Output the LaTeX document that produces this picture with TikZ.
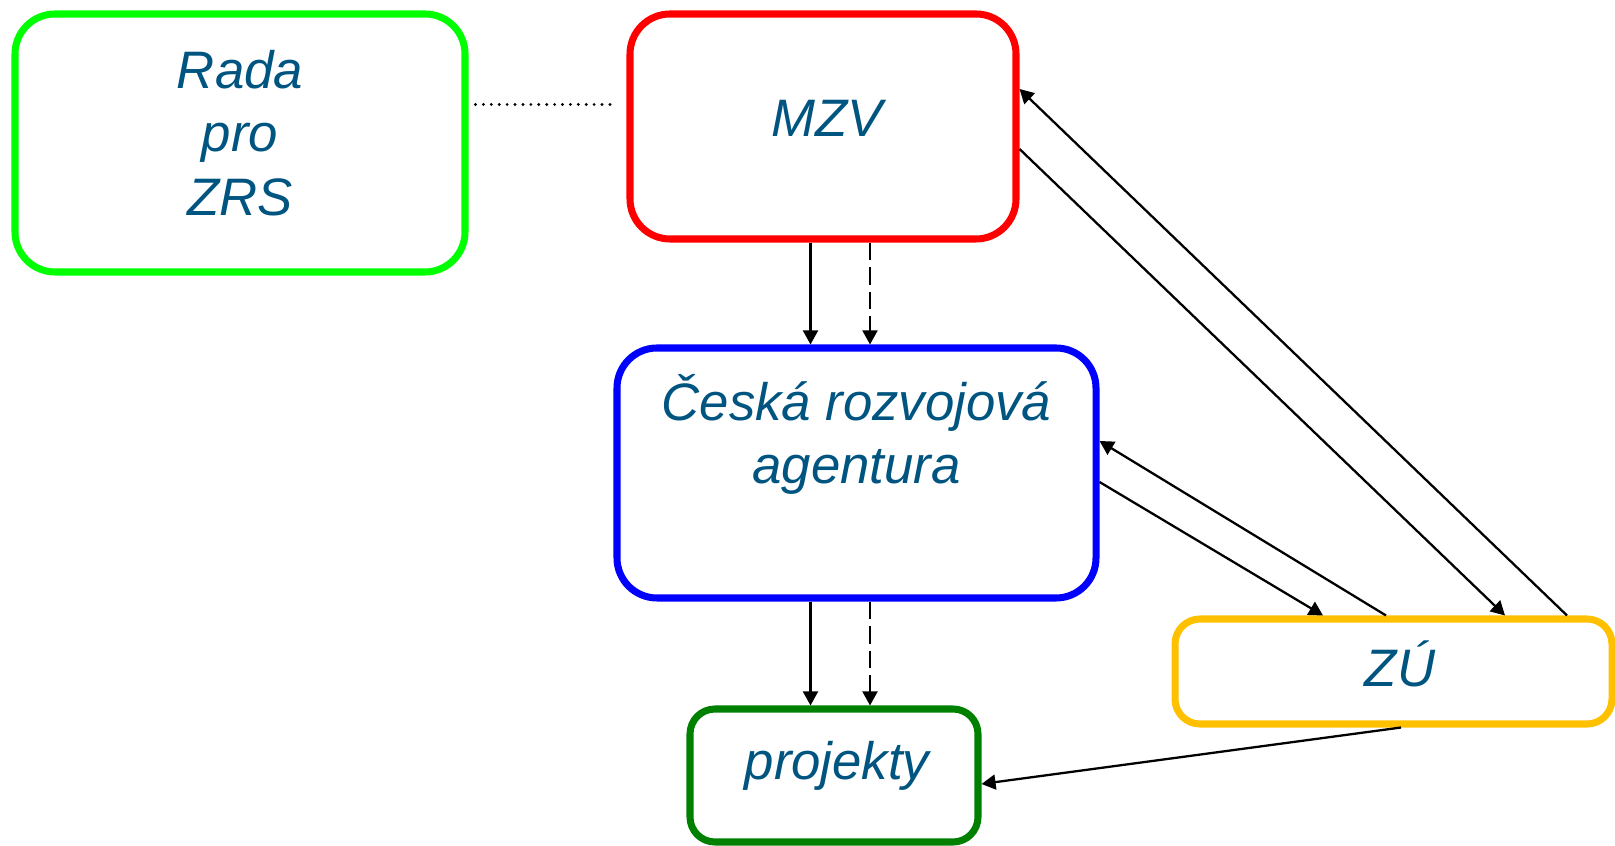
\documentclass[tikz,border=0pt]{standalone}
\usepackage{fontspec}
\setmainfont{Liberation Sans}
\usepackage{xcolor}
\usetikzlibrary{arrows.meta,positioning}
\definecolor{radagreen}{RGB}{0,255,0}
\definecolor{mzvred}{RGB}{255,0,0}
\definecolor{crablue}{RGB}{0,0,255}
\definecolor{projgreen}{RGB}{0,128,0}
\definecolor{zuyellow}{RGB}{255,192,0}
\definecolor{textblue}{RGB}{0,84,128}

\begin{document}
\begin{tikzpicture}[
    box/.style={draw, line width=4pt, rounded corners=0.8cm},
    smallbox/.style={draw, line width=4pt, rounded corners=0.5cm},
    txt/.style={text=textblue, font=\fontsize{30}{36}\selectfont\itshape, align=center, inner sep=0pt},
    arr/.style={line width=1.3pt, -{Triangle[length=8pt,width=8.5pt]}},
    dasharr/.style={arr, dash pattern=on 10pt off 4pt},
    dotline/.style={line width=1.8pt, line cap=round, dash pattern=on 0pt off 4.5pt}
]
\useasboundingbox (0,0) rectangle (32.3,16.92);

\node[box, draw=radagreen, minimum width=9cm, minimum height=5.16cm] (rada) at (4.8,14.06) {};
\node[box, draw=mzvred, minimum width=7.72cm, minimum height=4.5cm] (mzv) at (16.46,14.39) {};
\node[box, draw=crablue, minimum width=9.58cm, minimum height=5cm] (cra) at (17.13,7.46) {};
\node[smallbox, draw=projgreen, minimum width=5.76cm, minimum height=2.66cm] (proj) at (16.68,1.41) {};
\node[smallbox, draw=zuyellow, minimum width=8.74cm, minimum height=2.1cm] (zu) at (27.87,3.49) {};

\node[txt] (radatext) at ([yshift=0.2cm]rada.center) {Rada\\pro\\ZRS};
\node[txt, anchor=base] (mzvtext) at ([xshift=0.08cm,yshift=-0.21cm]mzv.center) {MZV};
\node[txt] (cratext) at ([yshift=0.77cm]cra.center) {Česká rozvojová\\agentura};
\node[txt, anchor=base] (zutext) at ([xshift=0.13cm,yshift=-0.31cm]zu.center) {ZÚ};
\node[txt, anchor=base] (projtext) at ([xshift=0.06cm,yshift=-0.09cm]proj.center) {projekty};

\draw[dotline] ([xshift=0.14cm,yshift=0.77cm]rada.east) -- ([xshift=-0.18cm,yshift=0.44cm]mzv.west);

\draw[arr] ([xshift=-0.25cm]mzv.south) -- ([xshift=-0.25cm]mzv.south |- cra.north);
\draw[dasharr] ([xshift=0.94cm]mzv.south) -- ([xshift=0.94cm]mzv.south |- cra.north);
\draw[arr] ([xshift=-0.92cm]cra.south) -- ([xshift=-0.92cm]cra.south |- proj.north);
\draw[dasharr] ([xshift=0.27cm]cra.south) -- ([xshift=0.27cm]cra.south |- proj.north);

\draw[arr] ([xshift=3.47cm]zu.north) -- ([yshift=0.75cm]mzv.east);
\draw[arr] ([yshift=-0.45cm]mzv.east) -- ([xshift=2.23cm]zu.north);
\draw[arr] ([xshift=-0.15cm]zu.north) -- ([yshift=0.64cm]cra.east);
\draw[arr] ([yshift=-0.18cm]cra.east) -- ([xshift=-1.41cm]zu.north);
\draw[arr] ([xshift=0.15cm]zu.south) -- ([yshift=-0.17cm]proj.east);

\end{tikzpicture}
\end{document}
